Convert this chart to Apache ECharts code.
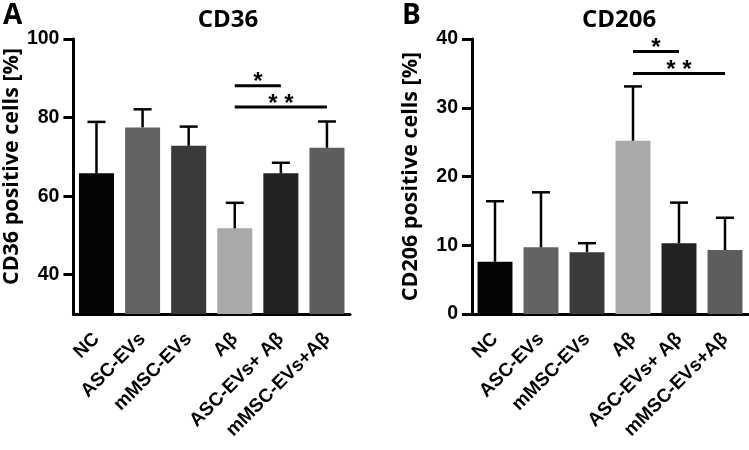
<!DOCTYPE html>
<html><head><meta charset="utf-8">
<script src="https://cdn.jsdelivr.net/npm/echarts@6/dist/echarts.min.js"></script>
<style>html,body{margin:0;padding:0;background:#fff}#c{width:749px;height:450px}</style>
</head><body><div id="c"></div>
<script>
const categories = ['NC','ASC-EVs','mMSC-EVs','A\u03B2','ASC-EVs+ A\u03B2','mMSC-EVs+A\u03B2'];
const barColors = ['#050505','#636363','#3a3a3a','#a9a9a9','#222222','#5d5d5d'];
const cd36Mean = [65.8, 77.5, 72.8, 51.8, 65.8, 72.3];
const cd36SD   = [13.1, 4.6, 4.9, 6.5, 2.7, 6.7];
const cd206Mean = [7.6, 9.7, 9.0, 25.2, 10.3, 9.3];
const cd206SD   = [8.8, 8.0, 1.3, 7.9, 5.9, 4.7];
const cd36Ticks = [40, 60, 80, 100];
const cd206Ticks = [0, 10, 20, 30, 40];
const cd36Sig = [[3, 4, 88.1, '*'], [3, 5, 82.7, '* *']];
const cd206Sig = [[3, 4, 38.2, '*'], [3, 5, 35.0, '* *']];

const chart = echarts.init(document.getElementById('c'));
const numFont = '"Liberation Sans", Arial, sans-serif';
const nameFont = '"Open Sans", "Liberation Sans", sans-serif';

function xAxis(gi){
  return {
    type:'category', gridIndex:gi, data:categories,
    axisLine:{lineStyle:{color:'#000',width:3}},
    axisTick:{alignWithLabel:true,length:11,lineStyle:{color:'#000',width:3}},
    axisLabel:{rotate:45,interval:0,margin:22,color:'#000',fontWeight:'bold',fontSize:19,fontFamily:numFont}
  };
}
function yAxis(gi,min,max,ticks,name,pad){
  return {
    type:'value', gridIndex:gi, min:min, max:max, name:name,
    nameLocation:'middle', nameGap:50, nameRotate:90,
    nameTextStyle:{color:'#000',fontWeight:'bold',fontSize:21.5,fontFamily:nameFont,padding:pad},
    splitLine:{show:false},
    axisLine:{show:true,lineStyle:{color:'#000',width:3}},
    axisTick:{show:true,length:10,customValues:ticks,lineStyle:{color:'#000',width:3}},
    axisLabel:{customValues:ticks,margin:14,color:'#000',fontWeight:'bold',fontSize:19.5,fontFamily:numFont}
  };
}
function errData(mean,sd){ return mean.map((m,i)=>[i,m,m+sd[i]]); }
function errSeries(xi,yi,mean,sd){
  return {
    type:'custom', xAxisIndex:xi, yAxisIndex:yi, clip:false, z:5,
    data:errData(mean,sd),
    renderItem:function(params,api){
      const p0 = api.coord([api.value(0), api.value(1)]);
      const p1 = api.coord([api.value(0), api.value(2)]);
      const s = {stroke:'#000',lineWidth:2.5};
      return {type:'group',children:[
        {type:'line',shape:{x1:p0[0],y1:p0[1],x2:p1[0],y2:p1[1]},style:s},
        {type:'line',shape:{x1:p1[0]-9,y1:p1[1],x2:p1[0]+9,y2:p1[1]},style:s}
      ]};
    }
  };
}
function sigSeries(xi,yi,sig){
  return {
    type:'custom', xAxisIndex:xi, yAxisIndex:yi, clip:false, z:6,
    data:sig.map(s=>[s[0],s[1],s[2]]),
    renderItem:function(params,api){
      const a = api.coord([api.value(0), api.value(2)]);
      const b = api.coord([api.value(1), api.value(2)]);
      const t = sig[params.dataIndex][3];
      return {type:'group',children:[
        {type:'line',shape:{x1:a[0],y1:a[1],x2:b[0],y2:b[1]},style:{stroke:'#000',lineWidth:3}},
        {type:'text',x:(a[0]+b[0])/2,y:a[1]-3,style:{text:t,fill:'#000',font:'bold 24px '+numFont,align:'center',verticalAlign:'middle'}}
      ]};
    }
  };
}
function barSeries(xi,yi,mean){
  return {type:'bar',xAxisIndex:xi,yAxisIndex:yi,barWidth:'76%',
    data:mean.map((v,i)=>({value:v,itemStyle:{color:barColors[i]}}))};
}
chart.setOption({
  animation:false,
  title:[
    {text:'CD36',left:223,top:3,textAlign:'center',textStyle:{fontSize:24,fontWeight:'bold',fontFamily:nameFont,color:'#000'}},
    {text:'CD206',left:614,top:3,textAlign:'center',textStyle:{fontSize:24,fontWeight:'bold',fontFamily:nameFont,color:'#000'}},
    {text:'A',left:-2,top:-3,textStyle:{fontSize:28,fontWeight:'bold',fontFamily:nameFont,color:'#000'}},
    {text:'B',left:397,top:-3,textStyle:{fontSize:28,fontWeight:'bold',fontFamily:nameFont,color:'#000'}}
  ],
  grid:[
    {left:73,top:39,width:277,height:275},
    {left:472,top:39,width:276,height:275}
  ],
  xAxis:[xAxis(0),xAxis(1)],
  yAxis:[yAxis(0,30,100,cd36Ticks,'CD36 positive cells [%]',[0,0,0,20]),yAxis(1,0,40,cd206Ticks,'CD206 positive cells [%]',[0,0,0,0])],
  series:[
    barSeries(0,0,cd36Mean), errSeries(0,0,cd36Mean,cd36SD), sigSeries(0,0,cd36Sig),
    barSeries(1,1,cd206Mean), errSeries(1,1,cd206Mean,cd206SD), sigSeries(1,1,cd206Sig)
  ]
});
</script></body></html>
